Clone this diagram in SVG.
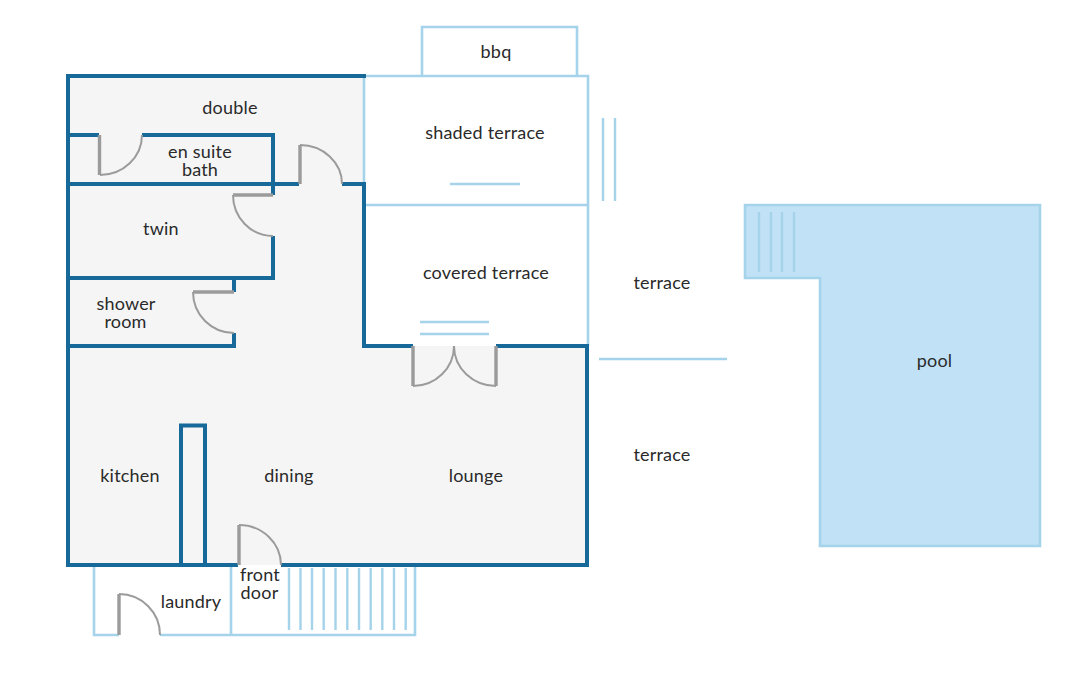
<svg xmlns="http://www.w3.org/2000/svg" width="1080" height="700" viewBox="0 0 1080 700">
<style>
.w{fill:none;stroke:#17699a;stroke-width:4}
.l{fill:none;stroke:#a5d3ea;stroke-width:2.6}
.t{fill:none;stroke:#a5d3ea;stroke-width:2.4}
.d{fill:none;stroke:#9b9b9b;stroke-width:3.4}
.a{fill:none;stroke:#9b9b9b;stroke-width:2}
text{font-family:"Lato","Liberation Sans",sans-serif;font-size:18px;fill:#2a2a2a;text-anchor:middle;letter-spacing:.2px}
</style>
<rect width="1080" height="700" fill="#fff"/>
<g id="floor"><path d="M68 76H364V346H587V565H68Z" fill="#f5f5f5"/></g>
<g id="pool"><path d="M745 205H1040V546H820V278H745Z" fill="#c1e1f6" stroke="#a5d3ea" stroke-width="2.6"/>
<path class="t" d="M759 212V272M771 212V272M782 212V272M794 212V272"/><text x="934.500" y="367">pool</text></g>
<g id="terraces"><path class="l" d="M422 76V27H577V76M364 76H588V346M364 205H588M364 76V184M94 565V635H119M160 635H415V565M231 565V635"/>
<path class="t" d="M450 184H520M603 118V201M615 118V201M420 322H489M420 334H489M599 359H727"/>
<path class="t" d="M289 568V630M300.500 568V630M312 568V630M323.700 568V630M335.500 568V630M347.300 568V630M359 568V630M370.700 568V630M382.300 568V630M394 568V630M405.700 568V630"/></g>
<g id="walls"><path class="w" d="M66 76H366M68 76V565M66 565H238M281 565H589M364 182V348M364 346H413M496 346H587V565"/>
<path class="w" d="M68 135H99M142 135H273V195M68 184H299M342 184H364M273 236V278H68M234 278V292M234 333V346H68M181 565V425.500H205V565"/></g>
<g id="doors"><path class="d" d="M99.500 135V175M300 184V145M273 195H233M234 292H193M413 346V386M496 346V386M239 565V525M119 635V594"/>
<path class="a" d="M100 175A42 40 0 0 0 142 135M300 145A42 39 0 0 1 342 184M233 195A40 41 0 0 0 273 236M193 292A41 41 0 0 0 234 333M413 386A41 40 0 0 0 454 346M496 386A42 40 0 0 1 454 346M239 525A42 40 0 0 1 281 565M119 594A41 41 0 0 1 160 635"/></g>
<g id="labels">
<text x="230" y="114">double</text>
<text y="158"><tspan x="200">en suite</tspan><tspan x="200" dy="17.500">bath</tspan></text>
<text x="161" y="235">twin</text>
<text y="310"><tspan x="126">shower</tspan><tspan x="125.500" dy="17.500">room</tspan></text>
<text x="130" y="482">kitchen</text>
<text x="289" y="482">dining</text>
<text x="476" y="482">lounge</text>
<text y="581"><tspan x="260">front</tspan><tspan x="259.500" dy="18">door</tspan></text>
<text x="191" y="608">laundry</text>
<text x="496" y="57.500">bbq</text>
<text x="485" y="139">shaded terrace</text>
<text x="486" y="279">covered terrace</text>
<text x="662" y="289">terrace</text>
<text x="662" y="461">terrace</text>
</g>
</svg>
